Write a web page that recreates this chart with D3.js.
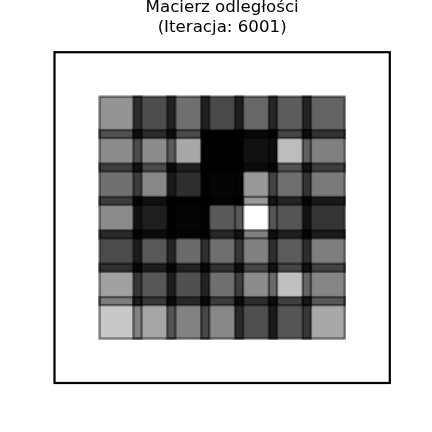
<!DOCTYPE html>
<html>
<head>
<meta charset="utf-8">
<script src="https://cdn.jsdelivr.net/npm/d3@7"></script>
<style>
  html, body { margin: 0; padding: 0; background: #fff; }
  svg { display: block; }
  .cell { mix-blend-mode: multiply; }
</style>
</head>
<body>
<svg id="chart" width="432" height="432"></svg>
<script>
const titleLines = ["Macierz odległości", "(Iteracja: 6001)"];
const rowIndex = [0, 1, 2, 3, 4, 5, 6];
const colIndex = [0, 1, 2, 3, 4, 5, 6];
// gray level of each cell (0 = black, 1 = white), row by row from the top
const distances = [
  [0.576, 0.302, 0.439, 0.290, 0.404, 0.361, 0.388],
  [0.549, 0.545, 0.659, 0.000, 0.067, 0.741, 0.502],
  [0.439, 0.530, 0.180, 0.020, 0.600, 0.435, 0.478],
  [0.545, 0.118, 0.020, 0.349, 1.000, 0.333, 0.208],
  [0.294, 0.345, 0.416, 0.435, 0.502, 0.361, 0.494],
  [0.627, 0.341, 0.314, 0.439, 0.549, 0.753, 0.522],
  [0.784, 0.647, 0.510, 0.533, 0.310, 0.333, 0.659]
];

(function () {
  const W = 432, H = 432;
  const axLeft = 54.5, axRight = 389.8, axTop = 52.2, axBottom = 383;
  const svg = d3.select("#chart");

  svg.append("rect").attr("x", 0).attr("y", 0).attr("width", W).attr("height", H).attr("fill", "#fff");

  const x = d3.scaleLinear().domain([-1.95, 7.95]).range([axLeft, axRight]);
  const y = d3.scaleLinear().domain([-1.95, 7.95]).range([axTop, axBottom]);
  const color = d3.scaleLinear().domain([0, 1]).range(["#000000", "#ffffff"]);
  const half = 0.62;

  const cells = [];
  rowIndex.forEach(r => colIndex.forEach(c => cells.push({ r, c, v: distances[r][c] })));

  const g = svg.append("g");
  g.append("rect")
    .attr("x", axLeft).attr("y", axTop)
    .attr("width", axRight - axLeft).attr("height", axBottom - axTop)
    .attr("fill", "#fff");

  g.selectAll("rect.cell")
    .data(cells)
    .join("rect")
    .attr("class", "cell")
    .attr("x", d => x(d.c - half))
    .attr("y", d => y(d.r - half))
    .attr("width", d => x(d.c + half) - x(d.c - half))
    .attr("height", d => y(d.r + half) - y(d.r - half))
    .attr("fill", d => color(d.v))
    .attr("stroke", "rgba(0,0,0,0.45)")
    .attr("stroke-width", 2.4);

  svg.append("rect")
    .attr("x", axLeft).attr("y", axTop)
    .attr("width", axRight - axLeft).attr("height", axBottom - axTop)
    .attr("fill", "none")
    .attr("stroke", "#000")
    .attr("stroke-width", 2.2);

  const title = svg.append("text")
    .attr("x", (axLeft + axRight) / 2)
    .attr("text-anchor", "middle")
    .attr("font-family", "DejaVu Sans, sans-serif")
    .attr("font-size", "16.67px")
    .attr("fill", "#000");
  titleLines.forEach((t, i) => {
    title.append("tspan").attr("x", (axLeft + axRight) / 2).attr("y", 12 + i * 19.8).text(t);
  });
})();
</script>
</body>
</html>
